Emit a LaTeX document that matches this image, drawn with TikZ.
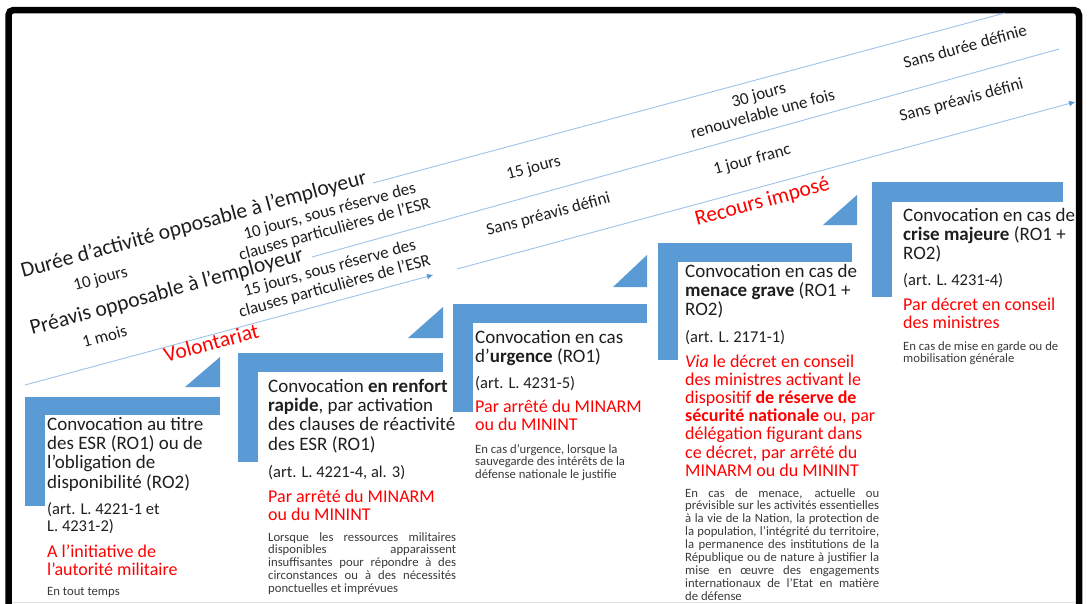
\documentclass[tikz,border=0pt]{standalone}
\usepackage{fontspec}
\setmainfont{Carlito}
\usetikzlibrary{arrows.meta}
\definecolor{stepblue}{HTML}{5B9BD5}
\definecolor{linblue}{HTML}{9DC3E6}
\definecolor{redtxt}{HTML}{FF0000}
\definecolor{darktxt}{HTML}{1E1E1E}
\definecolor{graytxt}{HTML}{3A3A3A}
\newcommand{\mytitle}{\fontsize{19}{19.4}\selectfont}
\newcommand{\myart}{\fontsize{16.5}{17.5}\selectfont}
\newcommand{\myred}{\fontsize{18}{18.2}\selectfont}
\newcommand{\mysmall}{\fontsize{12.7}{12.95}\selectfont}
\newcommand{\jline}[2]{\makebox[#1][s]{#2}}
\begin{document}
\begin{tikzpicture}[x=1pt,y=-1pt,
  rot/.style={rotate=15.3, inner sep=0, text=darktxt},
  bigtxt/.style={font=\fontsize{21.6}{24}\selectfont},
  midtxt/.style={font=\fontsize{17}{19}\selectfont},
  guide/.style={draw=linblue, line width=0.9pt},
  guidearrow/.style={guide, -{Triangle[length=6pt,width=5pt,color=stepblue]}},
  blk/.style={anchor=base west, inner sep=0},
  dark/.style={blk, text=darktxt},
  redb/.style={blk, text=redtxt},
  grayb/.style={blk, text=graytxt},
  stepfill/.style={fill=stepblue}
]
\useasboundingbox (0,0) rectangle (1088,603);

% frame
\draw[line width=6.5pt, rounded corners=5pt] (8.5,660) -- (8.5,10) -- (1079,10) -- (1079,660);
\draw[black!12, line width=1pt] (12,602) -- (1076,602);

% guide lines
\coordinate (l1s) at (373,183); \coordinate (l1e) at (1005,13);
\coordinate (l2s) at (312,257); \coordinate (l2e) at (1059,49);
\coordinate (l3s) at (25,385);  \coordinate (l3e) at (433,275);
\coordinate (l4s) at (457,269); \coordinate (l4e) at (1075,102);
\draw[guide] (l1s) -- (l1e);
\draw[guide] (l2s) -- (l2e);
\draw[guidearrow] (l3s) -- (l3e);
\draw[guidearrow] (l4s) -- (l4e);

% steps
\foreach \x/\y/\w/\h/\t in {25/397/195/109/18, 238/353/205/109/19, 453/304/194/108/19, 658/243/194/117/19, 872/182/191/115/20}{
  \fill[stepfill] (\x,\y) rectangle ++(\w,\t);
  \fill[stepfill] (\x,\y) rectangle ++(20,\h);
}
\fill[stepfill] (185,387) -- (220,387) -- (220,357) -- cycle;
\fill[stepfill] (408,338) -- (443,338) -- (443,307) -- cycle;
\fill[stepfill] (613,287) -- (647,287) -- (647,255) -- cycle;
\fill[stepfill] (823,225) -- (857,225) -- (857,195) -- cycle;

% rotated texts
\node[rot, bigtxt, anchor=base west] (duree) at (23,278) {Durée d’activité opposable à l’employeur};
\node[rot, bigtxt, anchor=base west] (preavis) at (32,335) {Préavis opposable à l’employeur};
\node[rot, midtxt, anchor=base west] (dj10) at (75,291) {10 jours};
\node[rot, midtxt, anchor=base west] (pm1) at (84,348) {1 mois};
\node[rot, midtxt, anchor=base] (a1) at (331,216) {10 jours, sous réserve des};
\node[rot, midtxt, anchor=base] (a2) at (336,234) {clauses particulières de l’ESR};
\node[rot, midtxt, anchor=base] (b1) at (331,273) {15 jours, sous réserve des};
\node[rot, midtxt, anchor=base] (b2) at (336,291) {clauses particulières de l’ESR};
\node[rot, bigtxt, text=redtxt, anchor=base west] (vol) at (166,363) {Volontariat};
\node[rot, midtxt, anchor=base west] (d15) at (508,180) {15 jours};
\node[rot, midtxt, anchor=base west] (pspd) at (488,236) {Sans préavis défini};
\node[rot, midtxt, anchor=base] (d30) at (760,100) {30 jours};
\node[rot, midtxt, anchor=base] (ren) at (764,119) {renouvelable une fois};
\node[rot, midtxt, anchor=base west] (j1) at (715,175) {1 jour franc};
\node[rot, bigtxt, text=redtxt, anchor=base west] (rec) at (697,226) {Recours imposé};
\node[rot, midtxt, anchor=base west] (sdd) at (905,69) {Sans durée définie};
\node[rot, midtxt, anchor=base west] (spd2) at (901,122) {Sans préavis défini};

% box 1
\node[dark] (t1) at (47,430) {\parbox[t]{230pt}{\raggedright\mytitle Convocation au titre\\des ESR (RO1) ou de\\l’obligation de\\disponibilité (RO2)}};
\node[dark] (r1) at (47,514) {\parbox[t]{230pt}{\raggedright\myart (art. L. 4221-1 et\\L. 4231-2)}};
\node[redb] (p1) at (47,557) {\parbox[t]{230pt}{\raggedright\myred A l’initiative de\\l’autorité militaire}};
\node[grayb] (s1) at (47,595) {\parbox[t]{230pt}{\raggedright\mysmall En tout temps}};

% box 2
\node[dark] (t2) at (268,392) {\parbox[t]{230pt}{\raggedright\mytitle Convocation \textbf{en renfort}\\\textbf{rapide}, par activation\\des clauses de réactivité\\des ESR (RO1)}};
\node[dark] (r2) at (268,477) {\parbox[t]{230pt}{\raggedright\myart (art. L. 4221-4, al. 3)}};
\node[redb] (p2) at (268,502) {\parbox[t]{230pt}{\raggedright\myred Par arrêté du MINARM\\ou du MININT}};
\node[grayb] (s2) at (268,541) {\parbox[t]{230pt}{\raggedright\mysmall\jline{188pt}{Lorsque les ressources militaires}\\\jline{188pt}{disponibles apparaissent}\\\jline{188pt}{insuffisantes pour répondre à des}\\\jline{188pt}{circonstances ou à des nécessités}\\ponctuelles et imprévues}};

% box 3
\node[dark] (t3) at (475,343) {\parbox[t]{230pt}{\raggedright\mytitle Convocation en cas\\d’\textbf{urgence} (RO1)}};
\node[dark] (r3) at (475,388) {\parbox[t]{230pt}{\raggedright\myart (art. L. 4231-5)}};
\node[redb] (p3) at (475,412) {\parbox[t]{230pt}{\raggedright\myred Par arrêté du MINARM\\ou du MININT}};
\node[grayb] (s3) at (475,453) {\parbox[t]{230pt}{\raggedright\mysmall En cas d’urgence, lorsque la\\sauvegarde des intérêts de la\\défense nationale le justifie}};

% box 4
\node[dark] (t4) at (685,277) {\parbox[t]{230pt}{\raggedright\mytitle Convocation en cas de\\\textbf{menace grave} (RO1 +\\RO2)}};
\node[dark] (r4) at (685,342) {\parbox[t]{230pt}{\raggedright\myart (art. L. 2171-1)}};
\node[redb] (p4) at (685,367) {\parbox[t]{230pt}{\raggedright\myred\textit{Via} le décret en conseil\\des ministres activant le\\dispositif \textbf{de réserve de}\\\textbf{sécurité nationale} ou, par\\délégation figurant dans\\ce décret, par arrêté du\\MINARM ou du MININT}};
\node[grayb] (s4) at (685,497) {\parbox[t]{230pt}{\raggedright\mysmall\jline{194pt}{En cas de menace, actuelle ou}\\\jline{194pt}{prévisible sur les activités essentielles}\\\jline{194pt}{à la vie de la Nation, la protection de}\\\jline{194pt}{la population, l’intégrité du territoire,}\\\jline{194pt}{la permanence des institutions de la}\\\jline{194pt}{République ou de nature à justifier la}\\\jline{194pt}{mise en œuvre des engagements}\\\jline{194pt}{internationaux de l’Etat en matière}\\de défense}};

% box 5
\node[dark] (t5) at (903,221) {\parbox[t]{230pt}{\raggedright\mytitle Convocation en cas de\\\textbf{crise majeure} (RO1 +\\RO2)}};
\node[dark] (r5) at (903,285) {\parbox[t]{230pt}{\raggedright\myart (art. L. 4231-4)}};
\node[redb] (p5) at (903,310) {\parbox[t]{230pt}{\raggedright\myred Par décret en conseil\\des ministres}};
\node[grayb] (s5) at (903,350) {\parbox[t]{230pt}{\raggedright\mysmall En cas de mise en garde ou de\\mobilisation générale}};
\end{tikzpicture}
\end{document}
